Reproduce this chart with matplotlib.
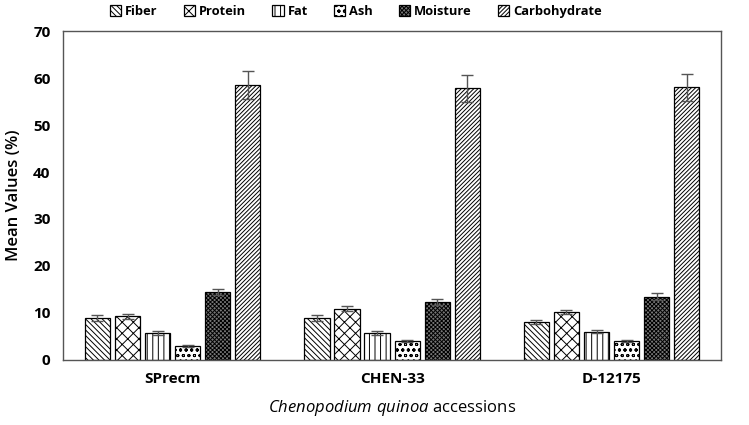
import numpy as np
import matplotlib
matplotlib.use('Agg')
import matplotlib.pyplot as plt

plt.rcParams['font.family'] = ['Open Sans', 'DejaVu Sans']
plt.rcParams['hatch.linewidth'] = 0.7
plt.rcParams['mathtext.fontset'] = 'custom'
plt.rcParams['mathtext.it'] = 'Open Sans:italic'
plt.rcParams['mathtext.rm'] = 'Open Sans'

accessions = ['SPrecm', 'CHEN-33', 'D-12175']
components = ['Fiber', 'Protein', 'Fat', 'Ash', 'Moisture', 'Carbohydrate']

# mean values (%) per component, one entry per accession
fiber = [8.9, 8.9, 8.1]
protein = [9.3, 10.9, 10.2]
fat = [5.7, 5.8, 6.0]
ash = [3.0, 4.0, 4.0]
moisture = [14.5, 12.3, 13.5]
carbohydrate = [58.5, 57.8, 58.0]

# error bars
fiber_err = [0.6, 0.6, 0.4]
protein_err = [0.5, 0.5, 0.5]
fat_err = [0.4, 0.4, 0.3]
ash_err = [0.2, 0.2, 0.2]
moisture_err = [0.7, 0.7, 0.7]
carbohydrate_err = [3.0, 2.8, 2.9]

values = [fiber, protein, fat, ash, moisture, carbohydrate]
errors = [fiber_err, protein_err, fat_err, ash_err, moisture_err, carbohydrate_err]
hatches = ['\\\\\\\\\\\\', 'xxx', '|||', 'ooo', 'xxxxxxxx', '////////']
facecols = ['white', 'white', 'white', 'white', '#777777', 'white']

fig, ax = plt.subplots(figsize=(7.49, 4.25), dpi=100)
fig.subplots_adjust(left=0.084, right=0.963, top=0.927, bottom=0.153)

x = np.arange(len(accessions))
w = 0.115
step = 0.137
for i, comp in enumerate(components):
    pos = x + (i - 2.5) * step
    ax.bar(pos, values[i], w, color=facecols[i], edgecolor='black',
           hatch=hatches[i], linewidth=0.9, label=comp,
           yerr=errors[i], error_kw=dict(ecolor='#555555', elinewidth=1, capsize=4, capthick=1))

ax.set_xlim(-0.5, 2.5)
ax.set_ylim(0, 70)
ax.set_yticks(range(0, 71, 10))
ax.set_xticks(x)
ax.set_xticklabels(accessions, fontweight='bold', fontsize=11)
ax.tick_params(axis='both', length=0, pad=9)
for lbl in ax.get_yticklabels():
    lbl.set_fontweight('bold')
    lbl.set_fontsize(11)
for s in ax.spines.values():
    s.set_color('#555555')
    s.set_linewidth(1)

ax.set_ylabel('Mean Values (%)', fontsize=12, fontweight='semibold', labelpad=8)
ax.set_xlabel(r'$\it{Chenopodium\ quinoa}$ accessions', fontsize=12, labelpad=8)

leg = ax.legend(loc='lower center', bbox_to_anchor=(0.445, 1.02), ncol=6, frameon=False,
                handlelength=0.9, handleheight=0.9, handletextpad=0.3, columnspacing=2.0,
                prop={'weight': 'bold', 'size': 9.3}, borderaxespad=0.1)

fig.savefig('out.png', dpi=100)
